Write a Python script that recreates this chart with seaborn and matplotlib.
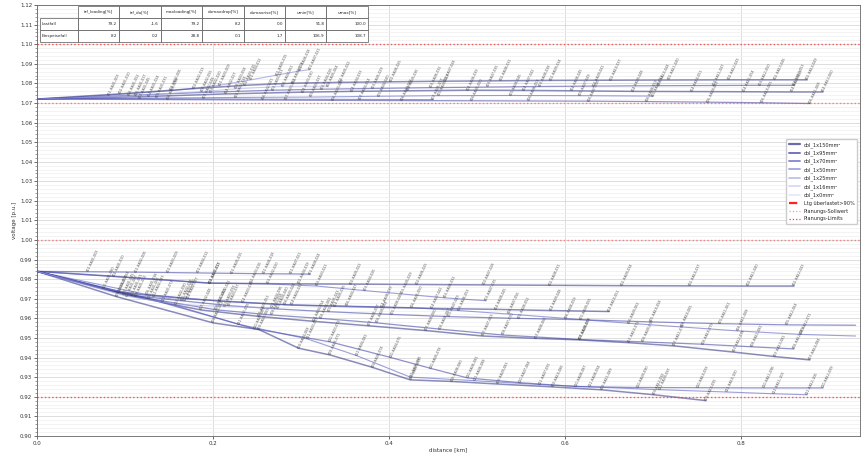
import matplotlib
matplotlib.use("Agg")
import matplotlib.pyplot as plt
from matplotlib.ticker import MultipleLocator, FormatStrFormatter
from matplotlib.lines import Line2D
import seaborn as sns

# ---------------- summary table ----------------
table_cols = ["trf_loading[%]", "trf_du[%]", "maxloading[%]", "dumaxdrop[%]",
              "dumaxrise[%]", "umin[%]", "umax[%]"]
table_rows = ["Lastfall", "Einspeisefall"]
lastfall_stats = [79.2, -1.6, 79.2, 8.2, 0.0, 91.8, 100.0]
einspeise_stats = [8.2, 0.2, 28.8, 0.1, 1.7, 106.9, 108.7]

# ---------------- cable types ----------------
cable_types = ["cbl_1x150mm²", "cbl_1x95mm²", "cbl_1x70mm²", "cbl_1x50mm²",
               "cbl_1x25mm²", "cbl_1x16mm²", "cbl_1x0mm²"]

# ---------------- Lastfall feeders (distance km / voltage p.u.) ----------------
lf_a_km = [0, 0.058, 0.112, 0.148, 0.183, 0.221, 0.257, 0.288, 0.31]
lf_a_pu = [0.984, 0.9838, 0.9836, 0.9834, 0.9832, 0.9830, 0.9828, 0.9827, 0.9826]
lf_b_km = [0, 0.087, 0.196, 0.243, 0.297, 0.356, 0.431, 0.507, 0.583, 0.664, 0.741, 0.808, 0.86]
lf_b_pu = [0.984, 0.9815, 0.978, 0.9778, 0.9776, 0.9775, 0.9773, 0.9771, 0.9769, 0.9767, 0.9766, 0.9765, 0.9765]
lf_c_km = [0, 0.196, 0.262, 0.318, 0.372, 0.414, 0.463, 0.51]
lf_c_pu = [0.984, 0.978, 0.9776, 0.9765, 0.9742, 0.9725, 0.9705, 0.969]
lf_d_km = [0, 0.093, 0.171, 0.234, 0.289, 0.338, 0.392, 0.448, 0.521, 0.584, 0.65]
lf_d_pu = [0.984, 0.9733, 0.9700, 0.9682, 0.9668, 0.9662, 0.9656, 0.9651, 0.9646, 0.9640, 0.9635]
lf_e_km = [0, 0.107, 0.164, 0.218, 0.273, 0.331, 0.403, 0.468, 0.547, 0.618, 0.697, 0.776, 0.852, 0.93]
lf_e_pu = [0.984, 0.9718, 0.9690, 0.9665, 0.9648, 0.9634, 0.9620, 0.9609, 0.9600, 0.9593, 0.9582, 0.9573, 0.9567, 0.9565]
lf_f_km = [0, 0.124, 0.207, 0.281, 0.352, 0.426, 0.479, 0.536, 0.601, 0.672, 0.733, 0.796, 0.868, 0.93]
lf_f_pu = [0.984, 0.9722, 0.9688, 0.9670, 0.9663, 0.9655, 0.9640, 0.9622, 0.9600, 0.9575, 0.9556, 0.9536, 0.9518, 0.951]
lf_g_km = [0, 0.098, 0.186, 0.252, 0.314, 0.377, 0.441, 0.506, 0.566, 0.617, 0.672, 0.723, 0.791, 0.838, 0.878]
lf_g_pu = [0.984, 0.9722, 0.9643, 0.9610, 0.9585, 0.9562, 0.9538, 0.9510, 0.9498, 0.9490, 0.9476, 0.9460, 0.9428, 0.9405, 0.9388]
lf_h_km = [0, 0.112, 0.203, 0.267, 0.322, 0.386, 0.458, 0.529, 0.617, 0.688, 0.756, 0.812, 0.86]
lf_h_pu = [0.984, 0.9712, 0.9644, 0.9617, 0.9600, 0.9577, 0.9545, 0.9515, 0.9492, 0.9480, 0.9468, 0.9455, 0.9444]
lf_i_km = [0, 0.091, 0.2, 0.252, 0.297, 0.333, 0.381, 0.424, 0.471, 0.523, 0.586, 0.642, 0.701, 0.76]
lf_i_pu = [0.984, 0.9710, 0.9577, 0.9543, 0.9448, 0.9413, 0.9350, 0.9286, 0.9278, 0.9265, 0.9250, 0.9235, 0.9210, 0.918]
lf_j_km = [0, 0.127, 0.247, 0.333, 0.402, 0.447, 0.489, 0.548, 0.612, 0.683, 0.751, 0.826, 0.893]
lf_j_pu = [0.984, 0.9700, 0.9547, 0.9480, 0.9400, 0.9345, 0.9296, 0.9272, 0.9252, 0.9247, 0.9246, 0.9245, 0.9245]
lf_k_km = [0, 0.143, 0.229, 0.307, 0.363, 0.424, 0.497, 0.571, 0.628, 0.707, 0.784, 0.837, 0.875]
lf_k_pu = [0.984, 0.9685, 0.9570, 0.9495, 0.9410, 0.9300, 0.9282, 0.9262, 0.9250, 0.9236, 0.9224, 0.9215, 0.921]
lf_l_km = [0, 0.076, 0.133, 0.168]
lf_l_pu = [0.984, 0.9752, 0.9712, 0.9690]
lf_m_km = [0, 0.102, 0.158, 0.213, 0.267]
lf_m_pu = [0.984, 0.9713, 0.9672, 0.9660, 0.9655]

# ---------------- Einspeisefall feeders ----------------
es_a_km = [0, 0.081, 0.152, 0.207, 0.243, 0.272, 0.298, 0.31]
es_a_pu = [1.072, 1.0740, 1.0762, 1.0790, 1.0818, 1.0842, 1.0863, 1.087]
es_b_km = [0, 0.094, 0.178, 0.236, 0.291, 0.344, 0.402, 0.463, 0.527, 0.584, 0.652, 0.718, 0.786, 0.838, 0.875]
es_b_pu = [1.072, 1.0746, 1.0773, 1.0790, 1.0801, 1.0805, 1.0808, 1.0811, 1.0813, 1.0815, 1.0816, 1.0817, 1.0818, 1.0818, 1.0818]
es_c_km = [0, 0.112, 0.197, 0.268, 0.323, 0.381, 0.447, 0.512, 0.571, 0.633, 0.706, 0.769, 0.821, 0.86]
es_c_pu = [1.072, 1.0740, 1.0755, 1.0765, 1.0770, 1.0774, 1.0778, 1.0781, 1.0784, 1.0786, 1.0788, 1.0789, 1.0790, 1.079]
es_d_km = [0, 0.127, 0.214, 0.302, 0.357, 0.421, 0.489, 0.553, 0.608, 0.677, 0.744, 0.803, 0.857, 0.893]
es_d_pu = [1.072, 1.0733, 1.0746, 1.0755, 1.0759, 1.0762, 1.0765, 1.0764, 1.0762, 1.0759, 1.0758, 1.0757, 1.0756, 1.0756]
es_e_km = [0, 0.136, 0.226, 0.311, 0.388, 0.456, 0.538, 0.617, 0.7]
es_e_pu = [1.072, 1.0725, 1.0728, 1.0730, 1.0734, 1.0737, 1.0738, 1.0737, 1.0735]
es_f_km = [0, 0.148, 0.256, 0.336, 0.414, 0.494, 0.559, 0.627, 0.693, 0.762, 0.823, 0.878]
es_f_pu = [1.072, 1.0717, 1.0715, 1.0713, 1.0712, 1.0711, 1.0710, 1.0709, 1.0707, 1.0704, 1.0701, 1.0697]
es_g_km = [0, 0.117, 0.189, 0.282, 0.367, 0.45]
es_g_pu = [1.072, 1.0722, 1.0721, 1.0719, 1.0718, 1.0717]
es_h_km = [0, 0.104, 0.187, 0.226, 0.279, 0.33]
es_h_pu = [1.072, 1.0736, 1.0758, 1.0772, 1.0785, 1.0785]

# feeder -> cable type
lastfall_feeders = [
    (lf_a_km, lf_a_pu, "cbl_1x95mm²"), (lf_b_km, lf_b_pu, "cbl_1x150mm²"),
    (lf_c_km, lf_c_pu, "cbl_1x70mm²"), (lf_d_km, lf_d_pu, "cbl_1x150mm²"),
    (lf_e_km, lf_e_pu, "cbl_1x95mm²"), (lf_f_km, lf_f_pu, "cbl_1x70mm²"),
    (lf_g_km, lf_g_pu, "cbl_1x150mm²"), (lf_h_km, lf_h_pu, "cbl_1x95mm²"),
    (lf_i_km, lf_i_pu, "cbl_1x150mm²"), (lf_j_km, lf_j_pu, "cbl_1x95mm²"),
    (lf_k_km, lf_k_pu, "cbl_1x70mm²"), (lf_l_km, lf_l_pu, "cbl_1x50mm²"),
    (lf_m_km, lf_m_pu, "cbl_1x25mm²"),
]
einspeise_feeders = [
    (es_a_km, es_a_pu, "cbl_1x50mm²"), (es_b_km, es_b_pu, "cbl_1x150mm²"),
    (es_c_km, es_c_pu, "cbl_1x95mm²"), (es_d_km, es_d_pu, "cbl_1x150mm²"),
    (es_e_km, es_e_pu, "cbl_1x70mm²"), (es_f_km, es_f_pu, "cbl_1x95mm²"),
    (es_g_km, es_g_pu, "cbl_1x70mm²"), (es_h_km, es_h_pu, "cbl_1x25mm²"),
]

cable_style = {
    "cbl_1x150mm²": ("#2b2f80", 1.1),
    "cbl_1x95mm²": ("#363ba0", 0.9),
    "cbl_1x70mm²": ("#4d52bc", 0.8),
    "cbl_1x50mm²": ("#7a7fd4", 0.8),
    "cbl_1x25mm²": ("#a3a7e4", 0.8),
    "cbl_1x16mm²": ("#c3c6f0", 0.7),
    "cbl_1x0mm²": ("#d9dbf6", 0.7),
}

limit_levels = [1.10, 0.92]
setpoint_levels = [1.07, 1.00]

# ---------------- figure ----------------
sns.set_theme(style="whitegrid")
plt.rcParams["font.family"] = ["DejaVu Sans"]
fig, ax = plt.subplots(figsize=(8.63, 4.55), dpi=100)
fig.subplots_adjust(left=0.043, right=0.9965, bottom=0.042, top=0.989)

for case_no, feeders in enumerate((lastfall_feeders, einspeise_feeders)):
    for f_no, (km, pu, cable) in enumerate(feeders):
        col, lw = cable_style[cable]
        sns.lineplot(x=km, y=pu, ax=ax, color=col, linewidth=lw, alpha=0.55,
                     sort=False, estimator=None, legend=False)
        for j in range(1, len(km)):
            if km[j] > 0.9:
                continue
            ax.text(km[j], pu[j], f"K{f_no + 1:02d}-HA{j:02d}-{f_no * 7 + j * 3:03d}",
                    rotation=65, rotation_mode="anchor", ha="left", va="center",
                    fontsize=2.4, color="#444444", alpha=0.9)

for lv in limit_levels:
    ax.axhline(lv, color="#ff3333", ls=":", lw=1.0, alpha=0.8)
for lv in setpoint_levels:
    ax.axhline(lv, color="#ff5555", ls=":", lw=1.0, alpha=0.7)

ax.set_xlim(0, 0.935)
ax.set_ylim(0.90, 1.12)
ax.xaxis.set_major_locator(MultipleLocator(0.2))
ax.xaxis.set_major_formatter(FormatStrFormatter("%.1f"))
ax.yaxis.set_major_locator(MultipleLocator(0.01))
ax.yaxis.set_minor_locator(MultipleLocator(0.002))
ax.yaxis.set_major_formatter(FormatStrFormatter("%.2f"))
ax.grid(which="major", color="#d8d8d8", lw=0.6)
ax.grid(which="minor", axis="y", color="#efefef", lw=0.5)
ax.tick_params(axis="both", which="major", labelsize=4, length=2, width=0.5,
               pad=1.5, colors="#333333", left=True, bottom=True)
ax.tick_params(axis="y", which="minor", length=1.2, width=0.4, left=True, colors="#555555")
for sp in ax.spines.values():
    sp.set_color("#666666")
    sp.set_linewidth(0.6)

ax.set_xlabel("distance [km]", fontsize=4, labelpad=1, color="#333333")
ax.set_ylabel("voltage [p.u.]", fontsize=4, labelpad=2, color="#333333")

# summary table: case names form the first column, top-left corner left open
cell_text = [[name] + [f"{v:.1f}" for v in vals]
             for name, vals in zip(table_rows, (lastfall_stats, einspeise_stats))]
tbl = ax.table(cellText=cell_text, colLabels=[""] + table_cols,
               colWidths=[0.047] + [0.051] * len(table_cols),
               cellLoc="right", colLoc="center",
               bbox=[0.003, 0.914, 0.399, 0.084], zorder=5)
tbl.auto_set_font_size(False)
tbl.set_fontsize(3)
for (r, c), cell in tbl.get_celld().items():
    cell.set_edgecolor("#555555")
    cell.set_linewidth(0.5)
    cell.set_facecolor("white")
    cell.PAD = 0.05
    if c == 0:
        cell.get_text().set_horizontalalignment("left")
    if r == 0 and c == 0:
        cell.visible_edges = ""
        cell.set_facecolor("none")

# legend
handles = [Line2D([], [], color=cable_style[c][0], lw=cable_style[c][1] + 0.5, alpha=0.7)
           for c in cable_types]
labels = list(cable_types)
handles += [Line2D([], [], color="#ff2222", lw=1.6, ls="--"),
            Line2D([], [], color="#ff9999", lw=0.9, ls=":"),
            Line2D([], [], color="#ff3333", lw=0.9, ls=":")]
labels += ["Ltg überlastet>90%", "Planungs-Sollwert", "Planungs-Limits"]
ax.legend(handles, labels, loc="center right", bbox_to_anchor=(1.0, 0.59),
          fontsize=3.6, frameon=True, framealpha=1, edgecolor="#cccccc",
          handlelength=2.2, labelspacing=0.55, borderpad=0.6)

fig.savefig("out.png", dpi=100)
